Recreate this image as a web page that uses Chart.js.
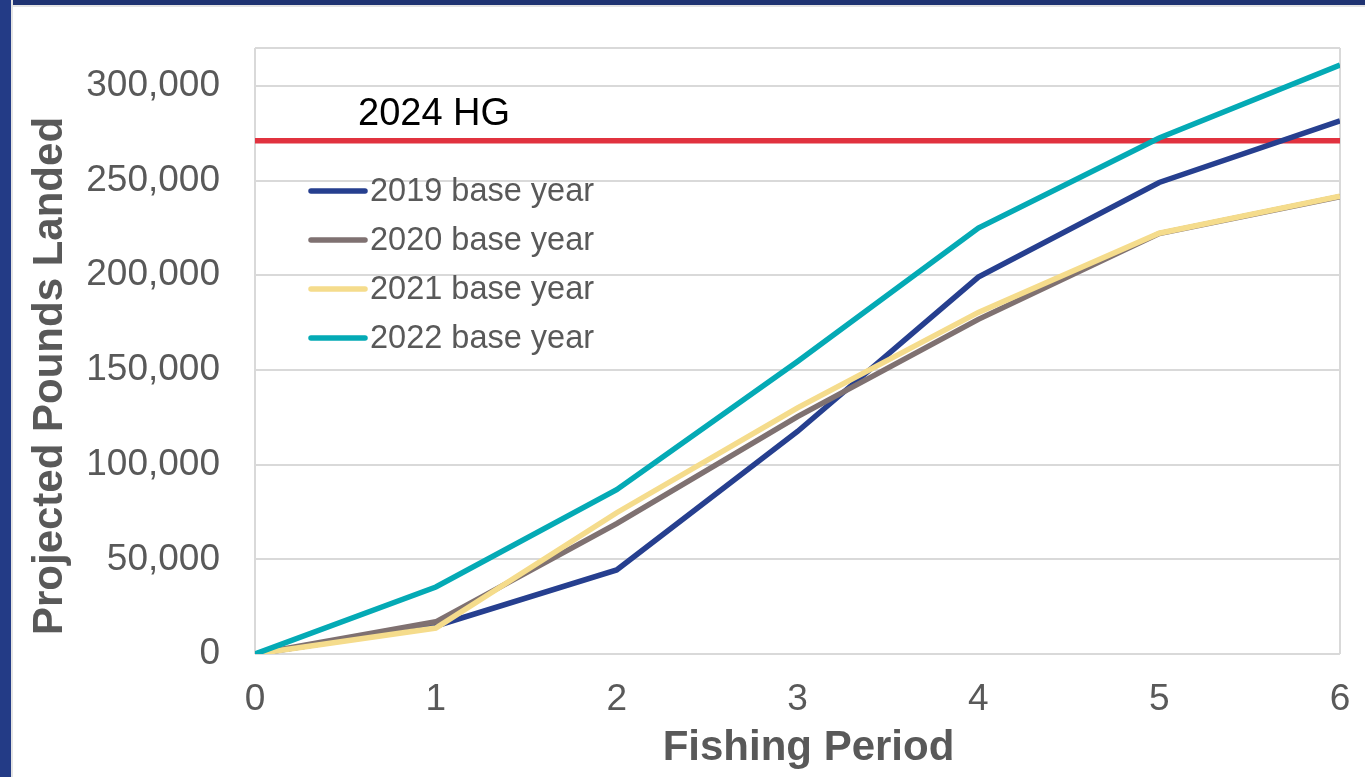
<!DOCTYPE html>
<html>
<head>
<meta charset="utf-8">
<script src="https://cdn.jsdelivr.net/npm/chart.js@4/dist/chart.umd.min.js"></script>
<style>
    html, body { margin: 0; padding: 0; background: #fff; overflow: hidden; }
    #wrap { position: relative; width: 1365px; height: 777px; }
    #frame-left { position: absolute; left: 0; top: 0; width: 11px; height: 777px; background: #233b86; border-right: 2px solid #e4e4e4; }
    #frame-top { position: absolute; left: 0; top: 0; width: 1365px; height: 5px; background: #1f3372; border-bottom: 2px solid #e4e4e4; }
</style>
</head>
<body>
<div id="wrap">
    <canvas id="chart" width="1365" height="777"></canvas>
    <div id="frame-top"></div>
    <div id="frame-left"></div>
</div>
<script>
const PERIODS = [0, 1, 2, 3, 4, 5, 6];
const SERIES = ['2019 base year', '2020 base year', '2021 base year', '2022 base year'];
const Y2019 = [0, 14800, 44400, 117500, 199000, 249000, 281500];
const Y2020 = [0, 17000, 68800, 125400, 176700, 222000, 241500];
const Y2021 = [0, 13700, 74600, 130000, 180400, 222200, 241800];
const Y2022 = [0, 35400, 86800, 154500, 224900, 272500, 311000];
const Y_TICKS = [0, 50000, 100000, 150000, 200000, 250000, 300000];
const Y_MAX = 320000;
const HG = 271000;
const HG_LABEL = '2024 HG';
const X_TITLE = 'Fishing Period';
const Y_TITLE = 'Projected Pounds Landed';
const COLORS = ['#263f8f', '#7f7171', '#f5dc8c', '#04aab5'];
const HG_COLOR = '#e1323f';
const GRID = '#d9d9d9';
const TEXT = '#595959';

const VALUES = [Y2019, Y2020, Y2021, Y2022];

let datasets = SERIES.map((name, idx) => ({
    label: name,
    data: PERIODS.map((p, i) => ({ x: p, y: VALUES[idx][i] })),
    borderColor: COLORS[idx],
    backgroundColor: COLORS[idx],
    borderWidth: 5.5,
    pointRadius: 0,
    tension: 0,
    order: 4 - idx
}));

datasets.push({
    label: HG_LABEL,
    data: PERIODS.map(p => ({ x: p, y: HG })),
    borderColor: HG_COLOR,
    backgroundColor: HG_COLOR,
    borderWidth: 5.5,
    pointRadius: 0,
    order: 5
});

const overlay = {
    id: 'overlay',
    afterDatasetsDraw(chart) {
        let { ctx, chartArea, scales } = chart;

        ctx.save();

        // HG label above the red line
        ctx.font = '38px "Liberation Sans", Arial, sans-serif';
        ctx.fillStyle = '#000';
        ctx.textAlign = 'left';
        ctx.textBaseline = 'middle';
        ctx.fillText(HG_LABEL, chartArea.left + 103, scales.y.getPixelForValue(HG) - 26);

        // legend inside the plot
        ctx.font = '32.5px "Liberation Sans", Arial, sans-serif';
        ctx.lineCap = 'round';
        ctx.lineWidth = 5.5;
        SERIES.forEach((name, idx) => {
            let y = chartArea.top + 143 + idx * 49;
            let x = chartArea.left + 56;
            ctx.strokeStyle = COLORS[idx];
            ctx.beginPath();
            ctx.moveTo(x, y);
            ctx.lineTo(x + 54, y);
            ctx.stroke();
            ctx.fillStyle = TEXT;
            ctx.fillText(name, x + 59, y + 1);
        });

        // axis titles, both a little off the plot centre as in the original
        ctx.font = 'bold 42px "Liberation Sans", Arial, sans-serif';
        ctx.fillStyle = TEXT;
        ctx.textAlign = 'center';
        ctx.fillText(X_TITLE, (chartArea.left + chartArea.right) / 2 + 11, 748);

        ctx.translate(50, 376);
        ctx.rotate(-Math.PI / 2);
        ctx.fillText(Y_TITLE, 0, 0);

        ctx.restore();
    }
};

function noOverflow(scale) {
    scale.paddingTop = 0;
    scale.paddingBottom = 0;
    scale.paddingLeft = 0;
    scale.paddingRight = 0;
}

new Chart(document.getElementById('chart'), {
    type: 'line',
    data: { datasets: datasets },
    plugins: [overlay],
    options: {
        responsive: false,
        animation: false,
        events: [],
        layout: { padding: { left: 0, right: 25, top: 48, bottom: 0 } },
        plugins: {
            legend: { display: false },
            tooltip: { enabled: false }
        },
        scales: {
            x: {
                type: 'linear',
                min: 0,
                max: 6,
                afterFit: scale => { scale.height = 123; noOverflow(scale); },
                ticks: {
                    stepSize: 1,
                    padding: 24,
                    color: TEXT,
                    font: { family: 'Liberation Sans', size: 37 }
                },
                grid: {
                    drawTicks: false,
                    lineWidth: 2,
                    color: ctx => (ctx.tick && (ctx.tick.value === 0 || ctx.tick.value === 6)) ? GRID : 'rgba(0,0,0,0)'
                },
                border: { display: false }
            },
            y: {
                min: 0,
                max: Y_MAX,
                afterFit: scale => { scale.width = 255; noOverflow(scale); },
                afterBuildTicks: scale => {
                    scale.ticks = Y_TICKS.concat([Y_MAX]).map(v => ({ value: v }));
                },
                ticks: {
                    padding: 35,
                    autoSkip: false,
                    color: TEXT,
                    font: { family: 'Liberation Sans', size: 37 },
                    callback: v => Y_TICKS.includes(v) ? v.toLocaleString('en-US') : ''
                },
                grid: {
                    drawTicks: false,
                    lineWidth: 2,
                    color: GRID
                },
                border: { display: false }
            }
        }
    }
});
</script>
</body>
</html>
